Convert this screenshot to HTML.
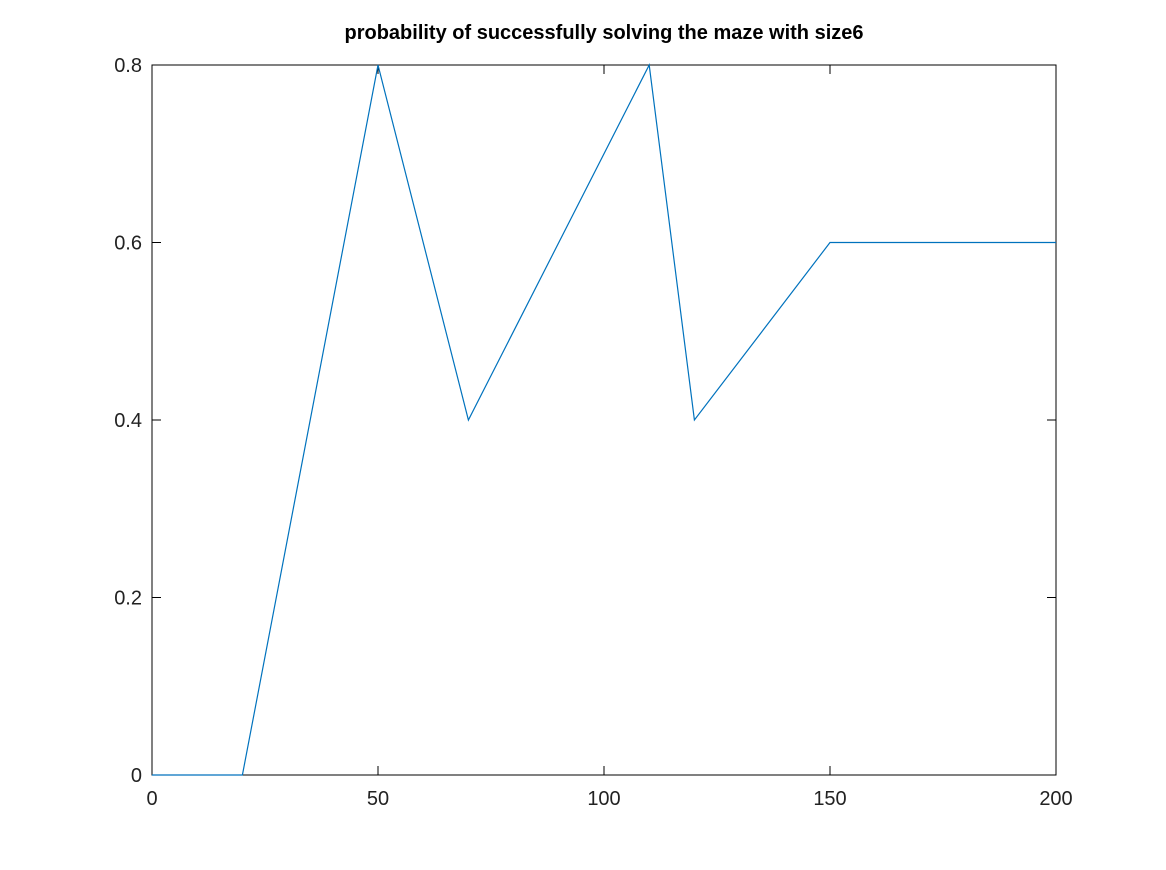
<!DOCTYPE html>
<html><head><meta charset="utf-8"><style>
html,body{margin:0;padding:0;background:#fff;}
svg{display:block;font-family:"Liberation Sans",sans-serif;}
</style></head><body>
<svg id="chart" width="1166" height="870" xmlns="http://www.w3.org/2000/svg">
<rect width="1166" height="870" fill="#fff"/>
<text x="604" y="39" text-anchor="middle" font-size="20" font-weight="bold" fill="#000">probability of successfully solving the maze with size6</text>
<rect x="152" y="65" width="904" height="710" fill="none" stroke="#000" stroke-width="1"/>
<g id="ticks"></g>
<g id="series"></g>
</svg>
<script>
const xValues = [0, 20, 50, 70, 110, 120, 150, 200];
const yValues = [0, 0, 0.8, 0.4, 0.8, 0.4, 0.6, 0.6];
const xTicks = [0, 50, 100, 150, 200];
const yTicks = [0, 0.2, 0.4, 0.6, 0.8];
const yTickLabels = ["0", "0.2", "0.4", "0.6", "0.8"];

const L=152,R=1056,T=65,B=775;
const xs=v=>L+(v-0)/(200-0)*(R-L);
const ys=v=>B-(v-0)/(0.8-0)*(B-T);
const NS="http://www.w3.org/2000/svg";
const tg=document.getElementById('ticks');
function mk(tag,attrs,parent){const e=document.createElementNS(NS,tag);for(const k in attrs)e.setAttribute(k,attrs[k]);parent.appendChild(e);return e;}
xTicks.forEach(t=>{
  const x=xs(t);
  const a=mk('line',{x1:x,x2:x,y1:B,y2:B-9,stroke:'#000'},tg);
  
  
  const b=mk('line',{x1:x,x2:x,y1:T,y2:T+9,stroke:'#000'},tg);
  
  
  const tx=mk('text',{x:x,y:B+30,'text-anchor':'middle','font-size':'20',fill:'#222'},tg);
  tx.textContent=String(t);
  
  
});
yTicks.forEach((t,i)=>{
  const y=ys(t);
  const a=mk('line',{x1:L,x2:L+9,y1:y,y2:y,stroke:'#000'},tg);
  
  
  const b=mk('line',{x1:R,x2:R-9,y1:y,y2:y,stroke:'#000'},tg);
  
  
  const tx=mk('text',{x:L-10,y:y+7,'text-anchor':'end','font-size':'20',fill:'#222'},tg);
  tx.textContent=yTickLabels[i];
  
  
});
const pts=xValues.map((x,i)=>xs(x)+','+ys(yValues[i])).join(' ');
const pl=mk('polyline',{points:pts,fill:'none',stroke:'#0072bd','stroke-width':'1.2'},document.getElementById('series'));


</script>
</body></html>
